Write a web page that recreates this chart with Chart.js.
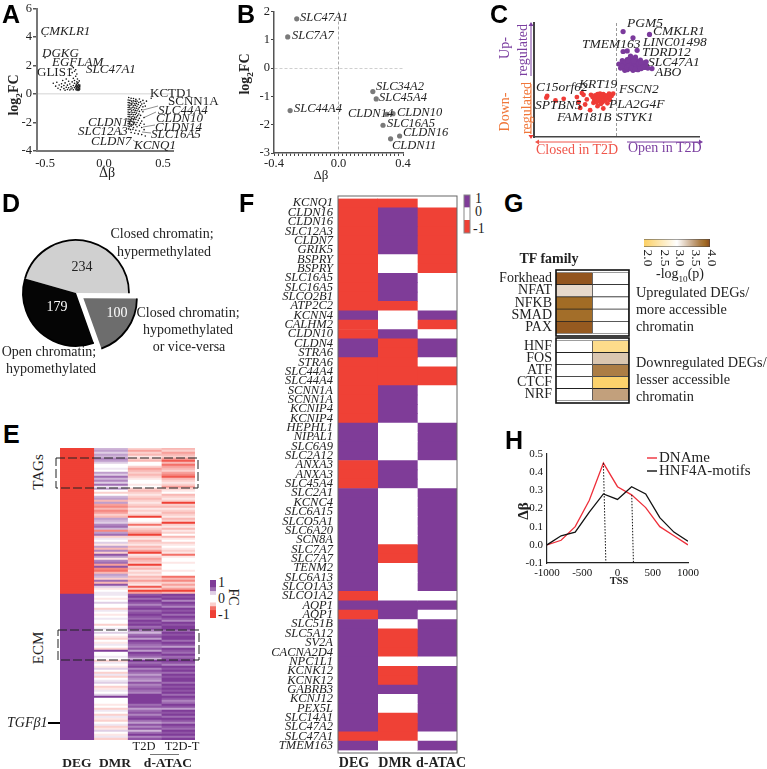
<!DOCTYPE html>
<html>
<head>
<meta charset="utf-8">
<title>Multi-panel figure</title>
<script src="https://cdn.jsdelivr.net/npm/chart.js@4"></script>
<style>
    html, body { margin: 0; padding: 0; background: #fff; width: 767px; height: 769px; overflow: hidden; position: relative; }
    canvas { position: absolute; }
    .note { position: absolute; white-space: nowrap; font-family: "Liberation Serif", serif; color: #222; line-height: 1; }
    .note sub { font-size: 65%; line-height: 0; }
    .letter { position: absolute; font: bold 25px "Liberation Sans", sans-serif; color: #000; line-height: 1; transform: translateY(-50%); }
</style>
</head>
<body>
<script>
// Panel A: delta beta / log2FC
const aXTicks = [-0.5, 0, 0.5];
const aYTicks = [-4, -2, 0, 2, 4, 6];
const aPoints = [
    [-0.5,4.05],[-0.5,2.55],[-0.27,1.95],
    [-0.43,0.75],[-0.41,0.55],[-0.40,0.82],[-0.39,0.4],[-0.38,0.63],[-0.37,0.3],[-0.36,0.5],[-0.36,0.72],[-0.35,0.95],
    [-0.34,0.38],[-0.34,0.6],[-0.33,0.26],[-0.33,0.78],[-0.32,0.47],[-0.32,1.05],[-0.31,0.32],[-0.31,0.62],[-0.30,0.9],
    [-0.30,0.44],[-0.29,0.28],[-0.29,0.7],[-0.29,1.3],[-0.28,0.52],[-0.28,0.35],[-0.28,1.75],[-0.27,0.85],[-0.27,0.42],
    [-0.27,1.5],[-0.26,0.3],[-0.26,0.6],[-0.26,1.1],[-0.26,1.85],[-0.25,0.45],[-0.25,0.75],[-0.25,0.95],[-0.25,1.6],
    [-0.24,0.35],[-0.24,0.55],[-0.24,1.25],[-0.24,1.7],[-0.235,0.28],[-0.235,0.48],[-0.235,0.68],[-0.23,0.38],[-0.23,0.6],
    [-0.23,0.85],[-0.23,1.4],[-0.225,0.3],[-0.225,0.5],[-0.225,0.72],[-0.225,1.05],[-0.22,0.25],[-0.22,0.42],[-0.22,0.58],
    [-0.22,0.8],[-0.215,0.33],[-0.215,0.47],[-0.215,0.65],[-0.21,0.28],[-0.21,0.4],[-0.21,0.55],[-0.21,0.92],[-0.205,0.35],
    [-0.205,0.5],[-0.205,0.62],
    [0.40,-0.3],[0.36,-0.5],[0.33,-0.45],[0.30,-0.35],[0.21,-0.25],[0.23,-0.3],[0.25,-0.32],[0.27,-0.38],[0.31,-0.55],
    [0.205,-0.42],[0.22,-0.45],[0.235,-0.5],[0.25,-0.48],[0.265,-0.52],[0.28,-0.5],[0.295,-0.6],[0.32,-0.7],[0.34,-0.65],
    [0.205,-0.6],[0.215,-0.62],[0.23,-0.66],[0.245,-0.63],[0.26,-0.68],[0.275,-0.66],[0.29,-0.74],[0.31,-0.82],[0.33,-0.9],
    [0.205,-0.78],[0.22,-0.8],[0.235,-0.76],[0.25,-0.82],[0.265,-0.8],[0.28,-0.86],[0.30,-0.95],[0.35,-0.85],
    [0.205,-0.95],[0.215,-0.92],[0.23,-0.98],[0.245,-0.94],[0.26,-0.98],[0.275,-1.0],[0.29,-1.05],[0.32,-1.1],
    [0.205,-1.1],[0.22,-1.08],[0.235,-1.14],[0.25,-1.1],[0.265,-1.15],[0.28,-1.18],[0.30,-1.22],[0.33,-1.25],
    [0.205,-1.26],[0.215,-1.3],[0.23,-1.26],[0.245,-1.3],[0.26,-1.28],[0.275,-1.34],[0.295,-1.4],
    [0.205,-1.42],[0.22,-1.45],[0.235,-1.42],[0.25,-1.46],[0.265,-1.44],[0.285,-1.52],[0.31,-1.5],
    [0.205,-1.58],[0.215,-1.6],[0.23,-1.62],[0.245,-1.58],[0.26,-1.64],[0.275,-1.62],[0.30,-1.7],[0.34,-1.65],
    [0.205,-1.75],[0.22,-1.78],[0.235,-1.74],[0.25,-1.8],[0.27,-1.78],[0.29,-1.85],[0.32,-1.9],
    [0.205,-1.92],[0.215,-1.95],[0.23,-1.9],[0.245,-1.96],[0.26,-1.98],[0.28,-2.0],[0.31,-2.05],
    [0.205,-2.08],[0.22,-2.1],[0.235,-2.14],[0.25,-2.1],[0.27,-2.15],[0.30,-2.2],[0.34,-2.12],
    [0.205,-2.25],[0.215,-2.3],[0.23,-2.26],[0.25,-2.35],[0.28,-2.3],[0.32,-2.35],
    [0.21,-2.45],[0.225,-2.5],[0.245,-2.48],[0.27,-2.55],[0.30,-2.6],[0.34,-2.5],
    [0.23,-2.7],[0.26,-2.75],[0.29,-2.8],[0.32,-2.85],[0.35,-2.95]
];

// Panel B: selected genes
const bGenes = ['SLC47A1', 'SLC7A7', 'SLC44A4', 'SLC34A2', 'SLC45A4', 'CLDN14', 'CLDN10', 'SLC16A5', 'CLDN16', 'CLDN11'];
const bDelta = [-0.259, -0.315, -0.30, 0.213, 0.234, 0.30, 0.338, 0.276, 0.379, 0.323];
const bLogFc = [1.74, 1.10, -1.50, -0.83, -1.09, -1.63, -1.61, -2.02, -2.40, -2.50];
const bYTicks = [-3, -2, -1, 0, 1, 2];

// Panel C: quadrant plot, unitless axes
const cUpPoints = [
    [0.08,0.85],[0.40,0.80],[0.20,0.74],[0.08,0.50],[0.13,0.51],[0.25,0.52],[0.17,0.42],[0.23,0.40],[0.13,0.36],
    [0.43,0.20],[0.03,0.28],[0.06,0.26],[0.08,0.31],[0.09,0.22],[0.11,0.27],[0.12,0.33],[0.13,0.18],[0.14,0.24],
    [0.15,0.30],[0.16,0.38],[0.17,0.20],[0.18,0.26],[0.19,0.33],[0.20,0.37],[0.20,0.17],[0.21,0.23],[0.22,0.29],
    [0.23,0.35],[0.24,0.19],[0.25,0.26],[0.26,0.32],[0.27,0.22],[0.28,0.28],[0.29,0.35],[0.30,0.20],[0.31,0.26],
    [0.33,0.30],[0.34,0.22],[0.36,0.25],[0.38,0.21],[0.36,0.32],[0.10,0.17],[0.05,0.21],[0.07,0.34],[0.16,0.22],[0.26,0.18],
    [0.10,0.30],[0.12,0.22],[0.15,0.26],[0.18,0.31],[0.21,0.33],[0.24,0.24],[0.27,0.29],[0.30,0.30],[0.32,0.22],[0.19,0.21],
    [0.07,0.24],[0.14,0.34],[0.28,0.20],[0.22,0.19]
];
const cDownPoints = [
    [-0.84,-0.28],[-0.85,-0.31],[-0.74,-0.36],[-0.64,-0.33],[-0.48,-0.30],[-0.46,-0.39],[-0.42,-0.23],[-0.40,-0.26],
    [-0.31,-0.26],[-0.36,-0.34],[-0.44,-0.49],[-0.32,-0.53],[-0.23,-0.46],[-0.16,-0.50],[-0.38,-0.43],[-0.28,-0.40],
    [-0.29,-0.30],[-0.27,-0.35],[-0.26,-0.27],[-0.25,-0.32],[-0.24,-0.39],[-0.23,-0.25],[-0.22,-0.30],[-0.21,-0.36],
    [-0.20,-0.24],[-0.19,-0.33],[-0.18,-0.28],[-0.17,-0.39],[-0.16,-0.25],[-0.15,-0.31],[-0.14,-0.36],[-0.13,-0.27],
    [-0.12,-0.33],[-0.11,-0.41],[-0.10,-0.29],[-0.08,-0.35],[-0.06,-0.28],[-0.04,-0.24],[-0.09,-0.24],[-0.19,-0.42]
];

// Panel D: chromatin classes
const dLabels = ['Closed chromatin; hypermethylated', 'Closed chromatin; hypomethylated or vice-versa', 'Open chromatin; hypomethylated'];
const dValues = [234, 100, 179];

// Panel E: heatmap levels, -8 (red) .. 8 (purple), read row by row, TAG block then ECM block
const eDegTags = [
    -8,-8,-8,-8,-8,-8,-8,-8,-8,-8, -8,-8,-8,-8,-8,-8,-8,-8,-8,-8, -8,-8,-8,-8,-8,-8,-8,-8,-8,-8, -8,-8,-8,-8,-8,-8,-8,-8,-8,-8,
    -8,-8,-8,-8,-8,-8,-8,-8,-8,-8, -8,-8,-8,-8,-8,-8,-8,-8,-8,-8, -8,-8,-8,-8,-8,-8,-8,-8,-8,-8, -8,-8,-8];
const eDegEcm = [
    8,8,8,8,8,8,8,8,8,8, 8,8,8,8,8,8,8,8,8,8, 8,8,8,8,8,8,8,8,8,8, 8,8,8,8,8,8,8,8,8,8,
    8,8,8,8,8,8,8,8,8,8, 8,8,8,8,8,8,8,8,8,8, 8,8,8,8,8,8,8,8,8,8, 8,8,8];
const eDmrTags = [
    3,4,2,4,3,5,4,2,0,0, 1,0,4,2,6,3,5,2,6,1, 4,0,-2,0,3,4,-3,4,-4,-5, -3,-5,-4,-2,-3,4,3,2,5,6,
    3,-5,4,6,-2,1,0,2,-1,4, -3,5,-2,7,4,-1,5,6,-4,7, -5,-6,-3,4,3,-2,6,-3,7,2, -1,0,1];
const eDmrEcm = [
    1,0,-1,0,2,0,0,-2,1,0, -1,0,1,0,0,-2,0,1,0,2, 0,-1,-2,0,-1,1,0,-2,8,0, 0,1,0,-2,1,0,-1,2,0,-2,
    1,-2,0,1,2,0,-2,-1,1,0, 2,8,0,0,0,-1,0,-2,1,0, -2,1,-1,-2,0,1,-2,-1,2,0, -1,1,-2];
const eT2dTags = [
    -2,-4,-2,-3,-1,-2,-3,0,0,-2, -4,-3,-2,-3,-2,-1,0,0,-1,0, -2,-3,-2,-1,-2,-3,-2,-1,-2,-3, -1,-2,-1,-2,-8,0,0,-1,-6,-1,
    -2,-3,-4,-8,-2,-1,-3,-2,-1,-3, -2,-4,-8,-1,-2,-4,-3,-2,-8,-2, -3,-1,-2,-1,-3,-2,-4,-2,-1,-7, -2,-8,-4];
const eT2dEcm = [
    7,8,6,8,7,5,7,8,6,7, 8,7,6,8,7,8,6,7,5,3, 6,7,4,8,7,6,5,7,4,8, 7,6,3,8,6,7,8,5,7,6,
    4,6,5,4,7,5,6,7,6,5, 8,8,8,8,8,6,7,4,6,7, 5,7,8,6,4,7,5,7,3,6, 8,5,7];
const eT2dtTags = [
    -3,-2,-4,-3,-2,-4,-7,-3,-6,-4, -3,-2,-4,-5,-7,-3,-2,-1,-2,-4, -2,-1,0,-3,-2,-1,-2,-8,-2,-3, -1,-2,-3,-2,-1,-3,-2,-8,-2,-1,
    -3,-1,-2,0,-3,-1,0,-2,-1,0, -1,-2,-1,-6,-1,0,0,-1,0,0, 0,-1,0,0,-6,-3,-5,-2,-4,-2, -4,-8,-3];
const eT2dtEcm = [
    8,7,8,5,8,7,5,8,7,8, 6,8,7,5,8,7,8,8,6,8, 7,8,8,6,8,7,4,8,7,6, 8,6,7,8,7,5,8,7,8,6,
    8,7,8,8,6,8,7,8,7,8, 6,8,7,5,6,8,7,4,8,7, 8,6,8,7,5,8,7,6,8,7, 8,6,8];
const eLegendLevels = [8, 8, 6, 2, 0, 0, -2, -6, -8, -8];

// Panel F: genes with DEG / DMR / d-ATAC direction
const fGenes = ['KCNQ1','CLDN16','CLDN16','SLC12A3','CLDN7','GRIK5','BSPRY','BSPRY','SLC16A5','SLC16A5','SLCO2B1','ATP2C2',
    'KCNN4','CALHM2','CLDN10','CLDN4','STRA6','STRA6','SLC44A4','SLC44A4','SCNN1A','SCNN1A','KCNIP4','KCNIP4','HEPHL1','NIPAL1',
    'SLC6A9','SLC2A12','ANXA3','ANXA3','SLC45A4','SLC2A1','KCNC4','SLC6A15','SLCO5A1','SLC6A20','SCN8A','SLC7A7','SLC7A7','TENM2',
    'SLC6A13','SLCO1A3','SLCO1A2','AQP1','AQP1','SLC51B','SLC5A12','SV2A','CACNA2D4','NPC1L1','KCNK12','KCNK12','GABRB3','KCNJ12',
    'PEX5L','SLC14A1','SLC47A2','SLC47A1','TMEM163'];
const fDeg = [-1,-1,-1,-1,-1,-1,-1,-1,-1,-1,-1,-1,1,-1,-1,1,1,-1,-1,-1,-1,-1,-1,-1,1,1,1,1,-1,-1,-1,1,1,1,1,1,1,1,1,1,1,1,-1,1,-1,1,1,1,1,1,1,1,1,1,1,1,1,-1,1];
const fDmr = [-1,1,1,1,1,1,0,0,1,1,1,-1,0,0,1,-1,-1,-1,-1,-1,1,1,1,1,0,0,0,0,1,1,1,0,0,0,0,0,0,-1,-1,0,0,0,0,1,1,0,-1,-1,-1,0,-1,-1,1,0,0,-1,-1,-1,0];
const fAtac = [0,-1,-1,-1,-1,-1,-1,-1,0,0,0,0,1,-1,0,1,1,0,-1,-1,0,0,0,0,1,1,1,1,0,0,0,1,1,1,1,1,1,1,1,1,1,1,0,1,0,1,1,1,1,0,1,1,1,1,1,1,1,0,1];
const fLegendLevels = [1, 0, -1];

// Panel G: -log10(p) by TF family, null = not enriched
const gUpFamilies = ['Forkhead', 'NFAT', 'NFKB', 'SMAD', 'PAX'];
const gUpFirst = [3.95, 3.2, 3.85, 3.83, 3.93];
const gUpSecond = [null, null, null, null, null];
const gDownFamilies = ['HNF', 'FOS', 'ATF', 'CTCF', 'NRF'];
const gDownFirst = [null, null, null, null, null];
const gDownSecond = [2.25, 3.3, 3.7, 2.05, 3.5];
const gBarTicks = [2, 2.5, 3, 3.5, 4];

// Panel H: profiles around TSS
const hPositions = [-1000, -800, -600, -400, -200, 0, 200, 400, 600, 800, 1000];
const hDname = [0.0, 0.025, 0.10, 0.245, 0.45, 0.32, 0.275, 0.205, 0.10, 0.05, 0.0];
const hMotifs = [0.0, 0.05, 0.07, 0.18, 0.28, 0.25, 0.32, 0.28, 0.15, 0.07, 0.02];
const hXTicks = [-1000, -500, 0, 500, 1000];
const hYTicks = [-0.1, 0, 0.1, 0.2, 0.3, 0.4, 0.5];

const RED = [239, 65, 54];
const PURPLE = [127, 60, 152];
const SERIF = '"Liberation Serif", serif';

// colour ramp of panel G: value, r, g, b
const P_RAMP = [
    [2, 252, 208, 100],
    [3, 255, 255, 255],
    [3.5, 194, 160, 124],
    [3.7, 172, 125, 69],
    [3.85, 162, 108, 37],
    [4, 139, 74, 28]
];

Chart.defaults.font.family = SERIF;
Chart.defaults.color = '#222';
Chart.defaults.animation = false;
Chart.defaults.responsive = false;
Chart.defaults.plugins.legend.display = false;
Chart.defaults.plugins.tooltip.enabled = false;

function mix(rgb, amount) {
    const c = rgb.map(v => Math.round(255 + (v - 255) * amount));
    return `rgb(${c[0]},${c[1]},${c[2]})`;
}

function levelColor(level, top) {
    if (level === 0) return '#fff';
    return mix(level > 0 ? PURPLE : RED, Math.abs(level) / top);
}

function pValueColor(v) {
    if (v === null) return '#fff';
    for (let i = 1; i < P_RAMP.length; i++) {
        const a = P_RAMP[i - 1];
        const b = P_RAMP[i];
        if (v <= b[0]) {
            const t = Math.max((v - a[0]) / (b[0] - a[0]), 0);
            const c = [1, 2, 3].map(k => Math.round(a[k] + (b[k] - a[k]) * t));
            return `rgb(${c[0]},${c[1]},${c[2]})`;
        }
    }
    return 'rgb(139,74,28)';
}

function fixedTicks(values) {
    return scale => { scale.ticks = values.map(v => ({ value: v })); };
}

// Puts a chart on the page so that its plot area is exactly box = [left, top, right, bottom]
function panel(box, margins, config, draw) {
    const [l, t, r, b] = box;
    const [ml, mt, mr, mb] = margins;
    const canvas = document.createElement('canvas');
    canvas.width = r - l + ml + mr;
    canvas.height = b - t + mt + mb;
    canvas.style.left = (l - ml) + 'px';
    canvas.style.top = (t - mt) + 'px';
    document.body.appendChild(canvas);

    const options = config.options || {};
    const scales = options.scales || {};
    const xShown = !scales.x || scales.x.display !== false;
    const yShown = !scales.y || scales.y.display !== false;
    if (scales.x && xShown) scales.x.afterFit = s => { s.height = mb; };
    if (scales.y && yShown) scales.y.afterFit = s => { s.width = ml; };
    options.layout = { padding: { left: yShown ? 0 : ml, right: mr, top: mt, bottom: xShown ? 0 : mb } };
    config.options = options;
    config.plugins = (config.plugins || []);
    if (draw) {
        config.plugins.push({
            id: 'deco',
            afterDraw(chart) {
                const ctx = chart.ctx;
                ctx.save();
                ctx.translate(-(l - ml), -(t - mt));
                draw(ctx, chart);
                ctx.restore();
            }
        });
    }
    return new Chart(canvas, config);
}

function note(html, x, y, opts = {}) {
    const el = document.createElement('div');
    el.className = 'note';
    el.innerHTML = html;
    const size = opts.size || 13;
    el.style.fontSize = size + 'px';
    el.style.left = x + 'px';
    el.style.top = y + 'px';
    if (opts.italic) el.style.fontStyle = 'italic';
    if (opts.bold) el.style.fontWeight = 'bold';
    if (opts.color) el.style.color = opts.color;
    const shift = opts.align === 'center' ? '-50%' : opts.align === 'right' ? '-100%' : '0';
    el.style.transform = `translate(${shift},-50%)` + (opts.rotate ? ` rotate(${opts.rotate}deg)` : '');
    document.body.appendChild(el);
}

function letter(text, x, y) {
    const el = document.createElement('div');
    el.className = 'letter';
    el.textContent = text;
    el.style.left = x + 'px';
    el.style.top = y + 'px';
    document.body.appendChild(el);
}

function line(ctx, x1, y1, x2, y2, color, width, dash) {
    ctx.strokeStyle = color;
    ctx.lineWidth = width;
    ctx.setLineDash(dash || []);
    ctx.beginPath();
    ctx.moveTo(x1, y1);
    ctx.lineTo(x2, y2);
    ctx.stroke();
    ctx.setLineDash([]);
}

function arrowHead(ctx, x, y, dx, dy, color) {
    ctx.fillStyle = color;
    ctx.beginPath();
    ctx.moveTo(x, y);
    ctx.lineTo(x - dx * 4 + dy * 2.5, y - dy * 4 + dx * 2.5);
    ctx.lineTo(x - dx * 4 - dy * 2.5, y - dy * 4 - dx * 2.5);
    ctx.closePath();
    ctx.fill();
}

// Floating cell columns on a hidden 0..n axis
function cellColumns(columns) {
    return columns.map((colors, i) => ({
        data: colors.map(() => [i, i + 1]),
        backgroundColor: colors,
        borderWidth: 0,
        grouped: false,
        barPercentage: 1,
        categoryPercentage: 1
    }));
}

function drawPanelA() {
    panel([37, 8, 173, 151], [37, 8, 10, 30], {
        type: 'scatter',
        data: { datasets: [{
            data: aPoints.map(p => ({ x: p[0], y: p[1] })),
            backgroundColor: '#111',
            pointRadius: 0.8,
            borderWidth: 0
        }] },
        options: { scales: {
            x: {
                type: 'linear', min: -0.568, max: 0.585,
                afterBuildTicks: fixedTicks(aXTicks),
                grid: { display: false, drawTicks: true, tickLength: 4 },
                border: { color: '#777', width: 2 },
                ticks: { font: { size: 12.5 }, padding: 1, maxRotation: 0, callback: v => v.toFixed(1) }
            },
            y: {
                min: -4, max: 6,
                afterBuildTicks: fixedTicks(aYTicks),
                grid: { color: c => c.tick && c.tick.value === 0 ? '#e2e2e2' : 'transparent', tickColor: '#555', tickLength: 4, lineWidth: 1.5 },
                border: { color: '#777', width: 2 },
                ticks: { font: { size: 12.5 }, padding: 1 }
            }
        } }
    }, ctx => {
        const leaders = [[143, 110, 158, 106], [143, 118, 156, 112], [143, 127, 155, 125], [142, 132, 151, 133], [133, 140, 137, 143]];
        leaders.forEach(s => line(ctx, s[0], s[1], s[2], s[3], '#444', 0.6));
    });
    const genes = [['CMKLR1', 40.5, 30, 1], ['DGKG', 42, 52, 1], ['EGFLAM', 52, 61, 1], ['SLC47A1', 86, 68, 1], ['GLIS1', 37, 71, 0],
        ['KCTD1', 150, 92, 0], ['SCNN1A', 168, 100, 0], ['SLC44A4', 158, 109, 1], ['CLDN10', 156, 117, 1], ['CLDN14', 155, 126, 1],
        ['SLC16A5', 151, 133, 1], ['CLDN16', 88, 121, 1], ['SLC12A3', 78, 130, 1], ['CLDN7', 91, 140, 1], ['KCNQ1', 134, 144, 1]];
    genes.forEach(g => note(g[0], g[1], g[2], { italic: !!g[3], size: 13 }));
    note('log<sub>2</sub>FC', 14, 95, { bold: true, size: 14, align: 'center', rotate: -90 });
    note('Δβ', 107, 173, { size: 14, align: 'center' });
}

function drawPanelB() {
    const bXTicks = [];
    for (let i = -16; i <= 16; i++) bXTicks.push(i * 0.025);
    panel([274, 11, 403, 153], [24, 8, 10, 22], {
        type: 'scatter',
        data: { datasets: [{
            data: bDelta.map((d, i) => ({ x: d, y: bLogFc[i] })),
            backgroundColor: '#7a7a7a',
            pointRadius: 2.6,
            borderWidth: 0
        }] },
        options: { scales: {
            x: {
                type: 'linear', min: -0.4, max: 0.4,
                afterBuildTicks: fixedTicks(bXTicks),
                grid: { color: c => c.tick && Math.abs(c.tick.value) < 0.001 ? '#aaa' : 'transparent', tickColor: '#444', tickLength: 3 },
                border: { color: '#555', width: 1.5, dash: [3, 2] },
                ticks: {
                    font: { size: 12.5 }, padding: 0, autoSkip: false, maxRotation: 0,
                    callback: v => {
                        const whole = Math.round(v * 40);
                        return whole % 16 === 0 ? v.toFixed(1) : '';
                    }
                }
            },
            y: {
                min: -3, max: 2,
                afterBuildTicks: fixedTicks(bYTicks),
                grid: { color: c => c.tick && c.tick.value === 0 ? '#cfcfcf' : 'transparent', tickColor: '#444', tickLength: 3 },
                border: { color: '#555', width: 1.5, dash: [3, 2] },
                ticks: { font: { size: 12.5 }, padding: 1 }
            }
        } }
    });
    const spots = [[300, 17], [292, 35], [294, 108], [376, 86], [379, 97], [348, 113], [397, 112], [387, 123], [403, 132], [392, 145]];
    bGenes.forEach((g, i) => note(g, spots[i][0], spots[i][1], { italic: true, size: 12.5 }));
    note('log<sub>2</sub>FC', 245, 74, { bold: true, size: 14, align: 'center', rotate: -90 });
    note('Δβ', 321, 174, { size: 13, align: 'center' });
}

function drawPanelC() {
    panel([534, 23, 699, 137], [34, 12, 12, 12], {
        type: 'scatter',
        data: { datasets: [
            { data: cUpPoints.map(p => ({ x: p[0], y: p[1] })), backgroundColor: '#7b3a9c', pointRadius: 2.6, borderWidth: 0 },
            { data: cDownPoints.map(p => ({ x: p[0], y: p[1] })), backgroundColor: '#ef3b36', pointRadius: 2.4, borderWidth: 0 }
        ] },
        options: { scales: {
            x: {
                type: 'linear', min: -1, max: 1,
                afterBuildTicks: fixedTicks([0]),
                grid: { color: '#999', drawTicks: false },
                border: { color: '#444', width: 1.5, dash: [3, 2] },
                ticks: { display: false }
            },
            y: {
                min: -1, max: 1,
                afterBuildTicks: fixedTicks([]),
                grid: { display: false },
                border: { color: '#444', width: 2 },
                ticks: { display: false }
            }
        } }
    }, ctx => {
        line(ctx, 537, 142, 612, 142, '#f0554a', 1);
        arrowHead(ctx, 535, 142, -1, 0, '#f0554a');
        line(ctx, 627, 142, 700, 142, '#7b3fa0', 1);
        arrowHead(ctx, 703, 142, 1, 0, '#7b3fa0');
        line(ctx, 531, 26, 531, 76, '#7b3fa0', 1);
        arrowHead(ctx, 531, 22, 0, -1, '#7b3fa0');
        line(ctx, 531, 84, 531, 134, '#f0773a', 1);
        arrowHead(ctx, 531, 139, 0, 1, '#ef3b36');
    });
    const genes = [['PGM5', 627, 23], ['CMKLR1', 653, 31], ['TMEM163', 582, 44], ['LINC01498', 643, 42], ['TDRD12', 642, 52],
        ['SLC47A1', 648, 62], ['ABO', 655, 72], ['C15orf62', 536, 87], ['KRT19', 579, 84], ['FSCN2', 619, 89], ['SPTBN5', 535, 105],
        ['PLA2G4F', 609, 104], ['FAM181B', 557, 117], ['STYK1', 616, 117]];
    genes.forEach(g => note(g[0], g[1], g[2], { italic: true, size: 13.5 }));
    note('Closed in T2D', 536, 150, { size: 14, color: '#f0554a' });
    note('Open in T2D', 628, 148, { size: 14, color: '#7b3fa0' });
    note('Up-', 505, 48, { size: 14, color: '#7b3fa0', align: 'center', rotate: -90 });
    note('regulated', 523, 50, { size: 14, color: '#7b3fa0', align: 'center', rotate: -90 });
    note('Down-', 505, 112, { size: 14, color: '#f0773a', align: 'center', rotate: -90 });
    note('regulated', 527, 108, { size: 14, color: '#f0773a', align: 'center', rotate: -90 });
}

function drawPanelD() {
    panel([6, 223, 146, 363], [0, 0, 0, 0], {
        type: 'pie',
        data: {
            labels: dLabels,
            datasets: [{
                data: dValues,
                backgroundColor: ['#d0d0d0', '#6d6d6d', '#050505'],
                borderWidth: 0,
                offset: [0, 36, 0]
            }]
        },
        options: { rotation: -74, radius: 53 },
        plugins: [{
            id: 'rim',
            afterDatasetsDraw(chart) {
                const ctx = chart.ctx;
                chart.getDatasetMeta(0).data.forEach(arc => {
                    // same shift the arc element applies to itself when it draws
                    const shift = (arc.options.offset || 0) / 4;
                    const mid = (arc.startAngle + arc.endAngle) / 2;
                    const grow = shift * (1 - Math.sin(Math.min(Math.PI, arc.circumference)));
                    ctx.strokeStyle = '#000';
                    ctx.lineWidth = 1.8;
                    ctx.beginPath();
                    ctx.arc(arc.x + Math.cos(mid) * shift, arc.y + Math.sin(mid) * shift, arc.outerRadius + grow, arc.startAngle, arc.endAngle);
                    ctx.stroke();
                });
            }
        }]
    });
    note('234', 82, 267, { size: 14, align: 'center' });
    note('179', 57, 307, { size: 14, align: 'center', color: '#fff' });
    note('100', 117, 313, { size: 14, align: 'center', color: '#fff' });
    note('Closed chromatin;', 162, 234, { size: 14, align: 'center' });
    note('hypermethylated', 164, 252, { size: 14, align: 'center' });
    note('Closed chromatin;', 188, 313, { size: 14, align: 'center' });
    note('hypomethylated', 188, 330, { size: 14, align: 'center' });
    note('or vice-versa', 189, 347, { size: 14, align: 'center' });
    note('Open chromatin;', 49, 352, { size: 14, align: 'center' });
    note('hypomethylated', 51, 369, { size: 14, align: 'center' });
}

function drawPanelE() {
    const deg = eDegTags.concat(eDegEcm);
    const dmr = eDmrTags.concat(eDmrEcm);
    const t2d = eT2dTags.concat(eT2dEcm);
    const t2dt = eT2dtTags.concat(eT2dtEcm);
    panel([60, 448, 195, 740], [14, 14, 8, 4], {
        type: 'bar',
        data: {
            labels: deg.map((v, i) => i),
            datasets: cellColumns([deg, dmr, t2d, t2dt].map(col => col.map(v => levelColor(v, 8))))
        },
        options: {
            indexAxis: 'y',
            scales: {
                x: { display: false, type: 'linear', min: 0, max: 4 },
                y: { display: false }
            }
        }
    }, ctx => {
        [[56, 458, 198, 488], [58, 630, 199, 660]].forEach(b => {
            ctx.strokeStyle = '#222';
            ctx.lineWidth = 1;
            ctx.setLineDash([9, 3]);
            ctx.strokeRect(b[0], b[1], b[2] - b[0], b[3] - b[1]);
            ctx.setLineDash([]);
        });
        line(ctx, 48, 723, 60, 723, '#000', 2);
    });
    // legend
    panel([210, 580, 216, 618], [1, 1, 1, 1], {
        type: 'bar',
        data: {
            labels: eLegendLevels.map((v, i) => i),
            datasets: cellColumns([eLegendLevels.map(v => levelColor(v, 8))])
        },
        options: { indexAxis: 'y', scales: { x: { display: false, type: 'linear', min: 0, max: 1 }, y: { display: false } } }
    });
    note('TAGs', 38, 472, { size: 15, align: 'center', rotate: -90 });
    note('ECM', 38, 648, { size: 15, align: 'center', rotate: -90 });
    note('TGFβ1', 7, 723, { size: 14, italic: true });
    note('T2D', 144, 746, { size: 12.5, align: 'center' });
    note('T2D-T', 182, 746, { size: 12.5, align: 'center' });
    note('DEG', 77, 763, { size: 13.5, bold: true, align: 'center' });
    note('DMR', 115, 763, { size: 13.5, bold: true, align: 'center' });
    note('d-ATAC', 168, 763, { size: 13.5, bold: true, align: 'center' });
    note('1', 218, 583, { size: 14 });
    note('0', 218, 599, { size: 14 });
    note('-1', 218, 615, { size: 14 });
    note('FC', 233, 597, { size: 14, align: 'center', rotate: 90 });
    const rule = document.createElement('div');
    rule.style.cssText = 'position:absolute;left:150px;top:754px;width:29px;height:1px;background:#777';
    document.body.appendChild(rule);
}

function drawPanelF() {
    panel([338, 196, 457, 753], [72, 10, 2, 10], {
        type: 'bar',
        data: {
            labels: fGenes,
            datasets: cellColumns([fDeg, fDmr, fAtac].map(col => col.map(v => levelColor(v, 1))))
        },
        options: {
            indexAxis: 'y',
            scales: {
                x: { display: false, type: 'linear', min: 0, max: 3 },
                y: {
                    grid: { display: false, drawTicks: false },
                    border: { display: false },
                    ticks: { autoSkip: false, padding: 5, font: { size: 12.5, style: 'italic' }, color: '#222' }
                }
            }
        }
    }, ctx => {
        ctx.strokeStyle = '#666';
        ctx.lineWidth = 1;
        ctx.strokeRect(338, 196, 119, 557);
    });
    panel([464, 195, 470, 233], [1, 1, 1, 1], {
        type: 'bar',
        data: {
            labels: fLegendLevels,
            datasets: cellColumns([fLegendLevels.map(v => levelColor(v, 1))])
        },
        options: { indexAxis: 'y', scales: { x: { display: false, type: 'linear', min: 0, max: 1 }, y: { display: false } } }
    }, ctx => {
        ctx.strokeStyle = '#888';
        ctx.lineWidth = 1;
        ctx.strokeRect(464, 195, 6, 38);
    });
    note('1', 475, 199, { size: 14 });
    note('0', 475, 212, { size: 14 });
    note('-1', 473, 229, { size: 14 });
    note('DEG', 354, 763, { size: 14, bold: true, align: 'center' });
    note('DMR', 395, 763, { size: 14, bold: true, align: 'center' });
    note('d-ATAC', 441, 763, { size: 14, bold: true, align: 'center' });
}

function familyBlock(box, families, first, second) {
    panel(box, [56, 10, 2, 10], {
        type: 'bar',
        data: {
            labels: families,
            datasets: cellColumns([first, second].map(col => col.map(pValueColor))).map(d => {
                d.borderWidth = 0.8;
                d.borderColor = '#222';
                return d;
            })
        },
        options: {
            indexAxis: 'y',
            scales: {
                x: { display: false, type: 'linear', min: 0, max: 2 },
                y: {
                    grid: { display: false, drawTicks: false },
                    border: { display: false },
                    ticks: { autoSkip: false, padding: 4, font: { size: 14 }, color: '#222' }
                }
            }
        }
    }, ctx => {
        ctx.strokeStyle = '#111';
        ctx.lineWidth = 1.6;
        ctx.strokeRect(box[0], box[1], box[2] - box[0], box[3] - box[1]);
    });
}

function drawPanelG() {
    familyBlock([556, 270, 629, 336], gUpFamilies, gUpFirst, gUpSecond);
    familyBlock([556, 338, 629, 403], gDownFamilies, gDownFirst, gDownSecond);
    panel([644, 239, 710, 247], [2, 2, 2, 3], {
        type: 'bar',
        data: {
            labels: ['-log10(p)'],
            datasets: [{
                data: [[2, 4]],
                borderWidth: 0.8,
                borderColor: '#444',
                barPercentage: 1,
                categoryPercentage: 1,
                backgroundColor: c => {
                    const area = c.chart.chartArea;
                    if (!area) return '#fff';
                    const g = c.chart.ctx.createLinearGradient(area.left, 0, area.right, 0);
                    P_RAMP.forEach(stop => g.addColorStop((stop[0] - 2) / 2, pValueColor(stop[0])));
                    return g;
                }
            }]
        },
        options: {
            indexAxis: 'y',
            scales: {
                x: { display: false, type: 'linear', min: 2, max: 4 },
                y: { display: false }
            }
        }
    });
    [648, 665, 680, 696, 712].forEach((x, i) => {
        note(gBarTicks[i].toFixed(1), x, 258, { size: 13.5, align: 'center', rotate: 90 });
    });
    note('-log<sub>10</sub>(p)', 680, 274, { size: 14, align: 'center' });
    note('TF family', 549, 259, { size: 14, bold: true, align: 'center' });
    note('Upregulated DEGs/', 636, 292, { size: 14.3 });
    note('more accessible', 636, 309, { size: 14.3 });
    note('chromatin', 636, 326, { size: 14.3 });
    note('Downregulated DEGs/', 636, 362, { size: 14.3 });
    note('lesser accessible', 636, 379, { size: 14.3 });
    note('chromatin', 636, 396, { size: 14.3 });
}

function drawPanelH() {
    const toPoints = values => hPositions.map((p, i) => ({ x: p, y: values[i] }));
    panel([547, 454, 688, 563], [30, 8, 16, 24], {
        type: 'scatter',
        data: { datasets: [
            { data: [{ x: -200, y: 0.45 }, { x: -165, y: -0.1 }], showLine: true, borderColor: '#111', borderWidth: 1, borderDash: [1.5, 1.5], pointRadius: 0 },
            { data: [{ x: 202, y: 0.275 }, { x: 226, y: -0.1 }], showLine: true, borderColor: '#111', borderWidth: 1, borderDash: [1.5, 1.5], pointRadius: 0 },
            { data: toPoints(hMotifs), showLine: true, borderColor: '#111', borderWidth: 1.3, pointRadius: 0, tension: 0 },
            { data: toPoints(hDname), showLine: true, borderColor: '#ee2f3a', borderWidth: 1.3, pointRadius: 0, tension: 0 }
        ] },
        options: { scales: {
            x: {
                type: 'linear', min: -1000, max: 1000,
                afterBuildTicks: fixedTicks(hXTicks),
                grid: { display: false, tickLength: 3 },
                border: { color: '#222', width: 1.2 },
                ticks: { font: { size: 11 }, padding: 1, maxRotation: 0, color: '#111', callback: v => String(v) }
            },
            y: {
                min: -0.1, max: 0.5,
                afterBuildTicks: fixedTicks(hYTicks),
                grid: { display: false, tickLength: 3 },
                border: { color: '#222', width: 1.2 },
                ticks: { font: { size: 11 }, padding: 1, color: '#111', callback: v => v.toFixed(1) }
            }
        } }
    }, ctx => {
        line(ctx, 647, 458, 657, 458, '#ee2f3a', 1.4);
        line(ctx, 647, 471, 657, 471, '#111', 1.4);
    });
    note('DNAme', 659, 457, { size: 15 });
    note('HNF4A-motifs', 659, 470, { size: 15 });
    note('TSS', 619, 581, { size: 10.5, bold: true, align: 'center' });
    note('Δβ', 523, 511, { size: 15, bold: true, align: 'center', rotate: -90 });
}

document.addEventListener('DOMContentLoaded', function() {
    drawPanelA();
    drawPanelB();
    drawPanelC();
    drawPanelD();
    drawPanelE();
    drawPanelF();
    drawPanelG();
    drawPanelH();
    letter('A', 2, 14);
    letter('B', 237, 14);
    letter('C', 490, 14);
    letter('D', 2, 203);
    letter('E', 3, 434);
    letter('F', 239, 203);
    letter('G', 504, 203);
    letter('H', 505, 440);
});
</script>
</body>
</html>
